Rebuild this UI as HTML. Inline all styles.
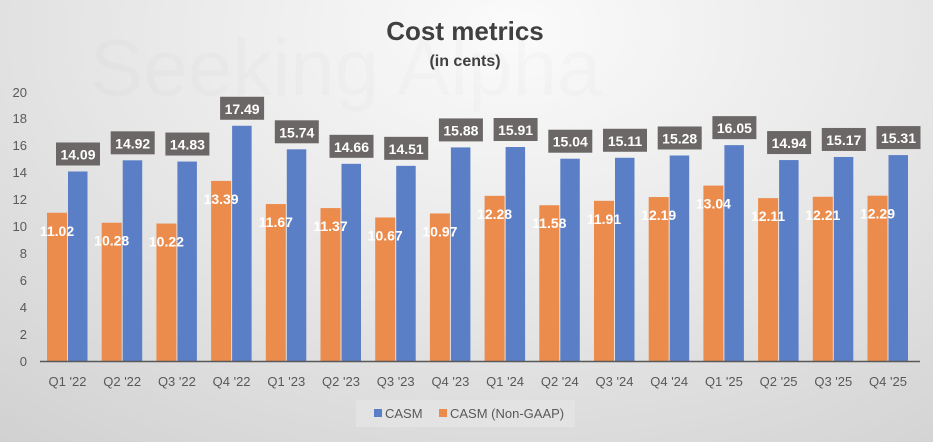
<!DOCTYPE html>
<html><head><meta charset="utf-8"><style>
html,body{margin:0;padding:0;}
body{width:933px;height:442px;overflow:hidden;font-family:"Liberation Sans","DejaVu Sans",sans-serif;}
</style></head><body>
<svg width="933" height="442" viewBox="0 0 933 442" xmlns="http://www.w3.org/2000/svg">
<defs>
<radialGradient id="bg" cx="0.55" cy="0.05" r="0.9" gradientTransform="scale(1,1.4)">
<stop offset="0" stop-color="#fbfbfb"/>
<stop offset="0.5" stop-color="#e6e6e6"/>
<stop offset="1" stop-color="#cfcfcf"/>
</radialGradient>
</defs>
<rect width="933" height="442" fill="url(#bg)"/>
<text x="90" y="95" font-size="80" fill="#000" fill-opacity="0.015" font-family="Liberation Sans">Seeking Alpha</text>
<text x="465" y="40" text-anchor="middle" font-size="26" font-weight="bold" fill="#404040">Cost metrics</text>
<text x="465" y="66" text-anchor="middle" font-size="16" font-weight="bold" fill="#404040">(in cents)</text>
<g id="chart"></g>
<g font-size="13" fill="#595959" text-anchor="end">
<text x="27" y="366">0</text><text x="27" y="339">2</text><text x="27" y="312">4</text><text x="27" y="285">6</text><text x="27" y="258">8</text><text x="27" y="231">10</text><text x="27" y="204">12</text><text x="27" y="177">14</text><text x="27" y="150">16</text><text x="27" y="123">18</text><text x="27" y="97">20</text>
</g>
<line x1="40" y1="361.5" x2="920" y2="361.5" stroke="#595959" stroke-width="1.5"/>
<rect x="356" y="400" width="219" height="27" fill="#e3e3e3"/>
<rect x="374" y="409" width="8" height="8" fill="#5b7fc7"/>
<text x="385" y="418" font-size="13" fill="#595959">CASM</text>
<rect x="439" y="409" width="8" height="8" fill="#ec8c4c"/>
<text x="450" y="418" font-size="13" fill="#595959">CASM (Non-GAAP)</text>
</svg>
<script>
var labs=["Q1 '22","Q2 '22","Q3 '22","Q4 '22","Q1 '23","Q2 '23","Q3 '23","Q4 '23","Q1 '24","Q2 '24","Q3 '24","Q4 '24","Q1 '25","Q2 '25","Q3 '25","Q4 '25"];
var b=[14.09,14.92,14.83,17.49,15.74,14.66,14.51,15.88,15.91,15.04,15.11,15.28,16.05,14.94,15.17,15.31];
var o=[11.02,10.28,10.22,13.39,11.67,11.37,10.67,10.97,12.28,11.58,11.91,12.19,13.04,12.11,12.21,12.29];
var s='',k=13.45,y0=361;
for(var i=0;i<16;i++){var c=67.5+i*54.7;
var ob=y0-o[i]*k,bb=y0-b[i]*k;
s+='<rect x="'+(c-20.5)+'" y="'+ob+'" width="20" height="'+(y0-ob)+'" fill="#ec8c4c"/>';
s+='<rect x="'+(c+0.5)+'" y="'+bb+'" width="19.5" height="'+(y0-bb)+'" fill="#5b7fc7"/>';
s+='<rect x="'+(c-11.5)+'" y="'+(bb-29)+'" width="44" height="23" fill="#6b6766"/>';
s+='<text x="'+(c+10.5)+'" y="'+(bb-12)+'" text-anchor="middle" font-size="14" font-weight="bold" fill="#fff">'+b[i].toFixed(2)+'</text>';
s+='<text x="'+(c-10.5)+'" y="'+(ob+23)+'" text-anchor="middle" font-size="14" font-weight="bold" fill="#fff">'+o[i].toFixed(2)+'</text>';
s+='<text x="'+c+'" y="386" text-anchor="middle" font-size="13" fill="#595959">'+labs[i]+'</text>';}
document.getElementById('chart').innerHTML=s;
</script>
</body></html>
